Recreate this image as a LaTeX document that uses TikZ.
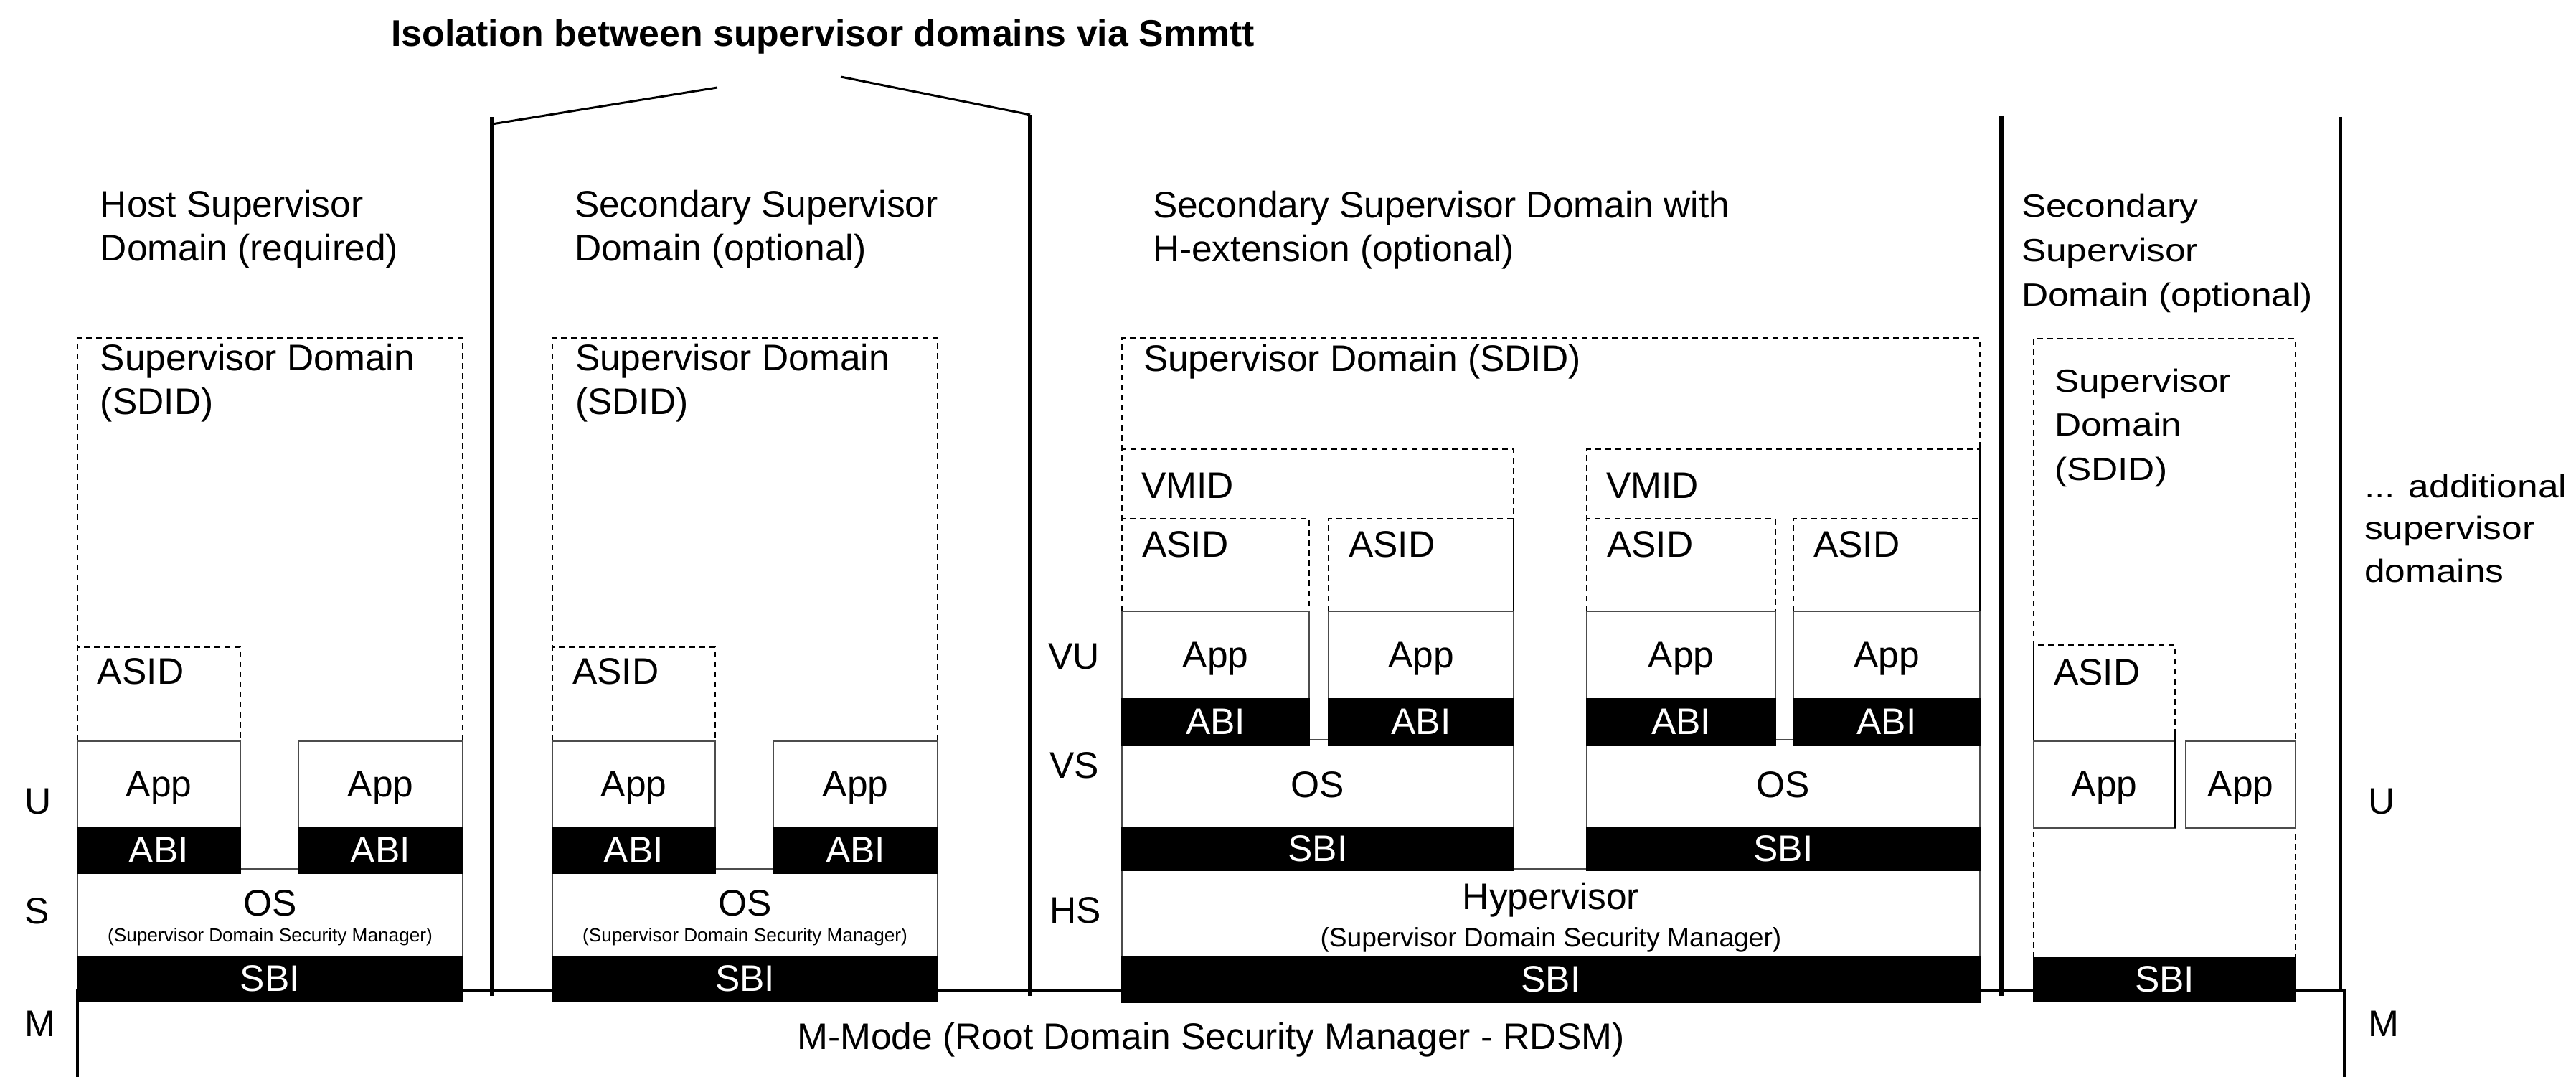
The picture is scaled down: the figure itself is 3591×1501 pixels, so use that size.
\documentclass[tikz,border=0pt]{standalone}
\usepackage{fontspec}
\setmainfont{Liberation Sans}
\newfontfamily\widefont[FakeStretch=1.15]{Liberation Sans}
\begin{document}
\begin{tikzpicture}[x=0.2pt,y=-0.2pt,
  txt/.style={inner sep=0pt, anchor=base, font=\fontsize{10.3}{12}\selectfont, text=black},
  txtl/.style={txt, anchor=base west},
  wtxt/.style={inner sep=0pt, anchor=base west, font=\widefont\fontsize{8.95}{11}\selectfont},
  wht/.style={txt, text=white},
  small/.style={inner sep=0pt, anchor=base, font=\fontsize{5.24}{6}\selectfont},
  mid/.style={inner sep=0pt, anchor=base, font=\fontsize{7.44}{8}\selectfont},
  ttl/.style={inner sep=0pt, anchor=base, font=\bfseries\fontsize{10.36}{12}\selectfont},
  dsh/.style={draw=black, line width=0.5pt, dash pattern=on 1.6pt off 1.2pt},
  appbox/.style={draw=black!70, line width=0.45pt, fill=white},
  blk/.style={fill=black, draw=black, line width=0.3pt},
  divider/.style={line width=1.3pt, line cap=butt},
  thinline/.style={line width=0.6pt},
]
\useasboundingbox[fill=white] (0,0) rectangle (3591,1501);

% title and bracket lines
\node[ttl] (title) at (1147,65) {Isolation between supervisor domains via Smmtt};
\coordinate (d1top) at (686,163);
\coordinate (d2top) at (1436,160);
\coordinate (d3top) at (2790,161);
\coordinate (d4top) at (3262,163);
\coordinate (d1bot) at (686,1388);
\coordinate (d2bot) at (1436,1388);
\coordinate (d3bot) at (2790,1388);
\coordinate (d4bot) at (3262,1381);
\coordinate (slA) at (1000,122);
\coordinate (slB) at (1172,107);
\draw[thinline] (686,173) -- (slA);
\draw[thinline] (slB) -- (d2top);
\draw[divider] (d1top) -- (d1bot);
\draw[divider] (d2top) -- (d2bot);
\draw[divider] (d3top) -- (d3bot);
\draw[line width=1pt] (d4top) -- (d4bot);

% M-mode box
\draw[line width=0.8pt] (108,1501) -- (108,1381) -- (3268,1381) -- (3268,1501);
\node[txt] (mmode) at (1688,1463) {M-Mode (Root Domain Security Manager - RDSM)};

% headers
\node[txtl] (h1a) at (139,303) {Host Supervisor};
\node[txtl] (h1b) at (139,364) {Domain (required)};
\node[txtl] (h2a) at (800,303) {Secondary Supervisor};
\node[txtl] (h2b) at (800,364) {Domain (optional)};
\node[txtl] (h3a) at (1606,304) {Secondary Supervisor Domain with};
\node[txtl] (h3b) at (1606,365) {H-extension (optional)};
\node[wtxt] (h4a) at (2817,303) {Secondary};
\node[wtxt] (h4b) at (2817,365) {Supervisor};
\node[wtxt] (h4c) at (2817,427) {Domain (optional)};

% side labels
\node[txtl] (lU) at (33,1135) {U};
\node[txtl] (lS) at (33,1288) {S};
\node[txtl] (lM) at (33,1445) {M};
\node[txtl] (lVU) at (1460,933) {VU};
\node[txtl] (lVS) at (1462,1085) {VS};
\node[txtl] (lHS) at (1462,1287) {HS};
\node[txtl] (rU) at (3300,1135) {U};
\node[txtl] (rM) at (3300,1445) {M};
\node[wtxt] (add1) at (3295,694) {... additional};
\node[wtxt] (add2) at (3295,752) {supervisor};
\node[wtxt] (add3) at (3295,812) {domains};

% domains 1 and 2 (identical layout)
\foreach \dx/\n in {0/a,662/b} {
  \draw[dsh] ({108+\dx},1033) -- ({108+\dx},471) -- ({645+\dx},471) -- ({645+\dx},1033);
  \draw[dsh] ({108+\dx},1033) -- ({108+\dx},902) -- ({335+\dx},902) -- ({335+\dx},1033);
  \draw[appbox] ({108+\dx},1211) rectangle ({645+\dx},1333);
  \draw[appbox] ({108+\dx},1033) rectangle ({335+\dx},1153);
  \draw[appbox] ({416+\dx},1033) rectangle ({645+\dx},1153);
  \filldraw[blk] ({108+\dx},1153) rectangle ({335+\dx},1217);
  \filldraw[blk] ({416+\dx},1153) rectangle ({645+\dx},1217);
  \filldraw[blk] ({108+\dx},1333) rectangle ({645+\dx},1395);
  \node[txtl] (sd1\n) at ({139+\dx},517) {Supervisor Domain};
  \node[txtl] (sd2\n) at ({139+\dx},578) {(SDID)};
  \node[txtl] (asid\n) at ({135+\dx},954) {ASID};
  \node[txt] (appL\n) at ({221.5+\dx},1111) {App};
  \node[txt] (appR\n) at ({530.5+\dx},1111) {App};
  \node[wht] (abiL\n) at ({221.5+\dx},1203) {ABI};
  \node[wht] (abiR\n) at ({530.5+\dx},1203) {ABI};
  \node[txt] (os\n) at ({376.5+\dx},1277) {OS};
  \node[small] (ossub\n) at ({376.5+\dx},1313) {(Supervisor Domain Security Manager)};
  \node[wht] (sbi\n) at ({376.5+\dx},1382) {SBI};
}

% domain 3 (H-extension)
\draw[dsh] (1564,852) -- (1564,471) -- (2760,471) -- (2760,852);
\node[txtl] (sd3) at (1593,518) {Supervisor Domain (SDID)};
\draw[dsh] (1564,852) -- (1564,626) -- (2110,626) -- (2110,852);
\draw[dsh] (2212,852) -- (2212,626) -- (2760,626) -- (2760,852);
\node[txtl] (vmid1) at (1590,695) {VMID};
\node[txtl] (vmid2) at (2238,695) {VMID};
\draw[appbox] (1564,1211) rectangle (2760,1333);
\draw[appbox] (1564,1031) rectangle (2110,1153);
\draw[appbox] (2212,1031) rectangle (2760,1153);
\foreach \xa/\xb/\n in {1564/1825/1,1852/2110/2,2212/2475/3,2500/2760/4} {
  \draw[dsh] (\xa,852) -- (\xa,723) -- (\xb,723) -- (\xb,852);
  \draw[appbox] (\xa,852) rectangle (\xb,974);
  \filldraw[blk] (\xa,974) rectangle (\xb,1038);
  \node[txtl] (asid3\n) at ({\xa+27},777) {ASID};
  \node[txt] (app3\n) at ({(\xa+\xb)/2},931) {App};
  \node[wht] (abi3\n) at ({(\xa+\xb)/2},1024) {ABI};
}
\filldraw[blk] (1564,1153) rectangle (2110,1213);
\filldraw[blk] (2212,1153) rectangle (2760,1213);
\filldraw[blk] (1564,1333) rectangle (2760,1397);
\node[txt] (os31) at (1837,1112) {OS};
\node[txt] (os32) at (2486,1112) {OS};
\node[wht] (sbi31) at (1837,1201) {SBI};
\node[wht] (sbi32) at (2486,1201) {SBI};
\node[txt] (hyp) at (2162,1268) {Hypervisor};
\node[mid] (hypsub) at (2162,1320) {(Supervisor Domain Security Manager)};
\node[wht] (sbi3) at (2162,1383) {SBI};

% domain 4
\draw[dsh] (2835,1335) -- (2835,472) -- (3200,472) -- (3200,1335);
\draw[dsh] (2835,1033) -- (2835,899) -- (3032,899) -- (3032,1033);
\draw[appbox] (2835,1033) rectangle (3032,1154);
\draw[appbox] (3047,1033) rectangle (3200,1154);
\draw[line width=0.6pt] (3032,1022) -- (3032,1154);
\filldraw[blk] (2835,1335) rectangle (3200,1395);
\node[wtxt] (sd4a) at (2863,547) {Supervisor};
\node[wtxt] (sd4b) at (2863,608) {Domain};
\node[wtxt] (sd4c) at (2863,670) {(SDID)};
\node[txtl] (asid4) at (2862,955) {ASID};
\node[txt] (app4a) at (2933.5,1111) {App};
\node[txt] (app4b) at (3123.5,1111) {App};
\node[wht] (sbi4) at (3017.5,1383) {SBI};
\end{tikzpicture}
\end{document}
